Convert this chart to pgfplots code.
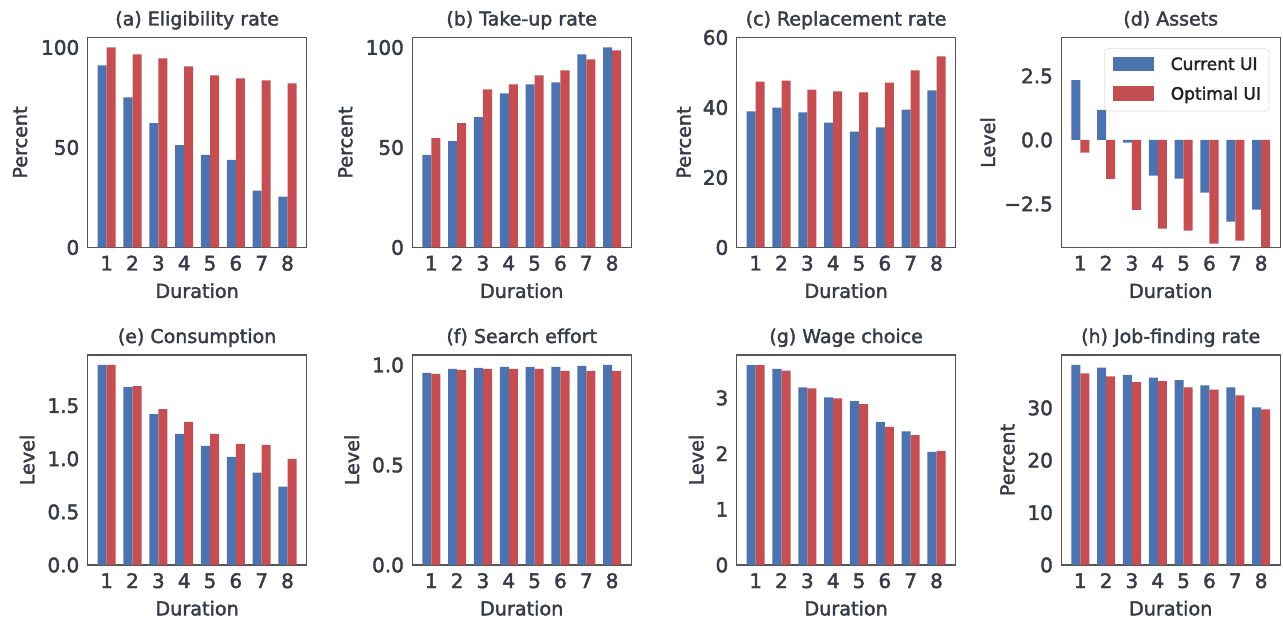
\documentclass[border=0pt]{standalone}
\usepackage{pgfplots}
\pgfplotsset{compat=1.18}
\usepackage{fontspec}
\setmainfont{DejaVu Sans}
\newfontfamily\med{DejaVu Sans}[FakeBold=2]
\definecolor{cblue}{RGB}{76,114,176}
\definecolor{cred}{RGB}{196,78,82}
\definecolor{txt}{RGB}{55,58,72}
\definecolor{framec}{RGB}{85,85,85}
\definecolor{legc}{RGB}{232,232,232}
\pgfplotsset{
  panel/.style={
    scale only axis, width=109.4pt, height=105pt,
    xmin=0.265, xmax=8.735, xtick={1,...,8},
    axis line style={draw=framec, line width=0.6pt},
    major tick length=0pt,
    /pgf/number format/assume math mode=true,
    tick label style={font=\fontsize{10}{12}\med, text=txt},
    xticklabel style={anchor=base, yshift=-11.5pt},
    yticklabel style={anchor=east, inner sep=0pt, xshift=-4pt},
    title style={at={(axis description cs:0.5,1)}, anchor=base, font=\fontsize{9.5}{11}\med, text=txt},
    xlabel={Duration},
    xlabel style={at={([yshift=-25.2pt]axis description cs:0.5,0)}, anchor=base, font=\fontsize{9.6}{11}\med, text=txt},
    ylabel style={anchor=base, font=\fontsize{9.6}{11}\med, text=txt},
  },
  yl/.style={ylabel style={at={([xshift=-#1]axis description cs:0,0.5)}}},
  cur/.style={ybar, bar width=0.35, bar shift=-0.175, fill=cblue, draw=none},
  opt/.style={ybar, bar width=0.35, bar shift=0.175, fill=cred, draw=none},
}
\begin{document}
\begin{tikzpicture}
\useasboundingbox (0,0) rectangle (641.5pt,310.5pt);

% (a)
\begin{axis}[panel, at={(43.85pt,186.75pt)}, anchor=south west,
  title={(a) Eligibility rate}, ylabel={Percent}, yl=30.35pt,
  ymin=0, ymax=105, ytick={0,50,100}, yticklabels={0,50,100}]
\addplot[cur] coordinates {(1,91.0) (2,75.1) (3,62.2) (4,51.2) (5,46.3) (6,43.8) (7,28.4) (8,25.4)};
\addplot[opt] coordinates {(1,100.0) (2,96.5) (3,94.5) (4,90.5) (5,86.1) (6,84.6) (7,83.6) (8,82.1)};
\end{axis}

% (b)
\begin{axis}[panel, at={(206.15pt,186.75pt)}, anchor=south west,
  title={(b) Take-up rate}, ylabel={Percent}, yl=30pt,
  ymin=0, ymax=105, ytick={0,50,100}, yticklabels={0,50,100}]
\addplot[cur] coordinates {(1,46.3) (2,53.2) (3,65.2) (4,77.1) (5,81.6) (6,82.6) (7,96.5) (8,100.0)};
\addplot[opt] coordinates {(1,54.7) (2,62.2) (3,79.1) (4,81.6) (5,86.1) (6,88.6) (7,94.0) (8,98.5)};
\end{axis}

% (c)
\begin{axis}[panel, at={(368.35pt,186.75pt)}, anchor=south west,
  title={(c) Replacement rate}, ylabel={Percent}, yl=23pt,
  ymin=0, ymax=60, ytick={0,20,40,60}, yticklabels={0,20,40,60}]
\addplot[cur] coordinates {(1,38.9) (2,40.0) (3,38.6) (4,35.7) (5,33.1) (6,34.3) (7,39.4) (8,44.9)};
\addplot[opt] coordinates {(1,47.4) (2,47.7) (3,45.1) (4,44.6) (5,44.3) (6,47.1) (7,50.6) (8,54.6)};
\end{axis}

% (d)
\begin{axis}[panel, at={(530.65pt,186.75pt)}, anchor=south west,
  title={(d) Assets}, ylabel={Level}, yl=33.15pt,
  ymin=-4.2, ymax=4.0, ytick={-2.5,0,2.5}, yticklabels={−2.5,0.0,2.5},
  legend cell align=left,
  legend image code/.code={\fill[#1, sharp corners] (0pt,-0.6pt) rectangle (20.85pt,6.75pt); \path (29.15pt,0pt);},
  legend style={at={(1,1)}, anchor=north east, xshift=-5.35pt, yshift=-5.35pt,
    draw=legc, line width=0.5pt, rounded corners=2pt, fill=white,
    inner xsep=4pt, inner ysep=3.9pt, row sep=6.25pt, column sep=0pt,
    font=\fontsize{8.5}{10}\med, text={rgb,255:red,35;green,35;blue,35},
    nodes={inner sep=0pt, text height=6.2pt, text depth=1.8pt, anchor=base west}}]
\addplot[cur] coordinates {(1,2.34) (2,1.17) (3,-0.10) (4,-1.39) (5,-1.51) (6,-2.06) (7,-3.19) (8,-2.72)};
\addplot[opt] coordinates {(1,-0.50) (2,-1.52) (3,-2.73) (4,-3.46) (5,-3.54) (6,-4.05) (7,-3.93) (8,-4.19)};
\legend{Current UI, Optimal UI}
\end{axis}

% (e)
\begin{axis}[panel, at={(43.85pt,28pt)}, anchor=south west,
  title={(e) Consumption}, ylabel={Level}, yl=26.7pt,
  ymin=0, ymax=1.978, ytick={0,0.5,1,1.5}, yticklabels={0.0,0.5,1.0,1.5}]
\addplot[cur] coordinates {(1,1.884) (2,1.675) (3,1.420) (4,1.234) (5,1.122) (6,1.019) (7,0.869) (8,0.738)};
\addplot[opt] coordinates {(1,1.884) (2,1.684) (3,1.469) (4,1.347) (5,1.234) (6,1.141) (7,1.131) (8,1.000)};
\end{axis}

% (f)
\begin{axis}[panel, at={(206.15pt,28pt)}, anchor=south west,
  title={(f) Search effort}, ylabel={Level}, yl=26.65pt,
  ymin=0, ymax=1.05, ytick={0,0.5,1}, yticklabels={0.0,0.5,1.0}]
\addplot[cur] coordinates {(1,0.960) (2,0.980) (3,0.985) (4,0.990) (5,0.990) (6,0.990) (7,0.995) (8,1.000)};
\addplot[opt] coordinates {(1,0.955) (2,0.975) (3,0.980) (4,0.980) (5,0.980) (6,0.970) (7,0.970) (8,0.970)};
\end{axis}

% (g)
\begin{axis}[panel, at={(368.35pt,28pt)}, anchor=south west,
  title={(g) Wage choice}, ylabel={Level}, yl=16.7pt,
  ymin=0, ymax=3.77, ytick={0,1,2,3}, yticklabels={0,1,2,3}]
\addplot[cur] coordinates {(1,3.59) (2,3.52) (3,3.19) (4,3.01) (5,2.94) (6,2.57) (7,2.40) (8,2.03)};
\addplot[opt] coordinates {(1,3.59) (2,3.49) (3,3.17) (4,2.99) (5,2.89) (6,2.48) (7,2.33) (8,2.05)};
\end{axis}

% (h)
\begin{axis}[panel, at={(530.65pt,28pt)}, anchor=south west,
  title={(h) Job-finding rate}, ylabel={Percent}, yl=23.5pt,
  ymin=0, ymax=40.1, ytick={0,10,20,30}, yticklabels={0,10,20,30}]
\addplot[cur] coordinates {(1,38.2) (2,37.7) (3,36.3) (4,35.8) (5,35.3) (6,34.3) (7,33.9) (8,30.1)};
\addplot[opt] coordinates {(1,36.6) (2,36.0) (3,34.9) (4,35.1) (5,33.9) (6,33.5) (7,32.4) (8,29.7)};
\end{axis}
\end{tikzpicture}
\end{document}
